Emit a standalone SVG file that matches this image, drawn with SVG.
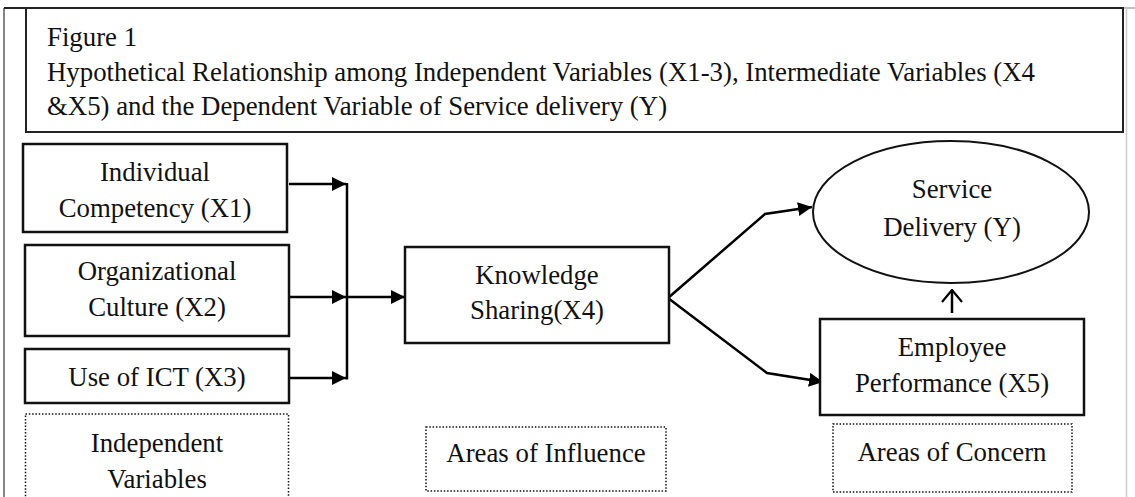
<svg xmlns="http://www.w3.org/2000/svg" width="1135" height="497" viewBox="0 0 1135 497">
  <style>
    text { font-family: "Liberation Serif", "Times New Roman", serif; font-size: 26.8px; fill: #111; }
    .mid { text-anchor: middle; }
    .box { fill: #fff; stroke: #111; stroke-width: 2.5; }
    .dot { fill: none; stroke: #111; stroke-width: 1.5; stroke-dasharray: 1.5 1.8; }
    .edge { fill: none; stroke: #000; stroke-width: 2.5; }
  </style>
  <defs>
    <marker id="tri" viewBox="0 0 14 14" refX="14" refY="7" markerWidth="14" markerHeight="14" markerUnits="userSpaceOnUse" orient="auto">
      <path d="M0,0 L14,7 L0,14 Z" fill="#000"/>
    </marker>
    <marker id="open" viewBox="0 0 14 22" refX="13" refY="11" markerWidth="14" markerHeight="22" markerUnits="userSpaceOnUse" orient="auto">
      <path d="M1,1 L13,11 L1,21" fill="none" stroke="#000" stroke-width="2.2"/>
    </marker>
  </defs>

  <rect width="1135" height="497" fill="#fff"/>

  <!-- page frame -->
  <g id="frame">
    <line x1="4" y1="8" x2="4" y2="497" stroke="#333" stroke-width="1.2"/>
    <line x1="4" y1="8" x2="1124" y2="8" stroke="#222" stroke-width="1.8"/>
    <line x1="1124" y1="8" x2="1135" y2="8" stroke="#999" stroke-width="1.2"/>
    <line x1="1126.5" y1="8" x2="1126.5" y2="497" stroke="#ccc" stroke-width="1.5"/>
  </g>

  <!-- caption -->
  <g id="caption">
    <rect x="26" y="8" width="1097" height="124" fill="#fff" stroke="#222" stroke-width="2"/>
    <text x="47" y="46">Figure 1</text>
    <text x="47" y="81">Hypothetical Relationship among Independent Variables (X1-3), Intermediate Variables (X4</text>
    <text x="47" y="115">&amp;X5) and the Dependent Variable of Service delivery (Y)</text>
  </g>

  <!-- connectors -->
  <g id="connectors">
    <line class="edge" x1="289" y1="184" x2="346" y2="184" marker-end="url(#tri)"/>
    <line class="edge" x1="290" y1="297" x2="346" y2="297" marker-end="url(#tri)"/>
    <line class="edge" x1="290" y1="378" x2="346" y2="378" marker-end="url(#tri)"/>
    <line class="edge" x1="347" y1="183" x2="347" y2="379.5"/>
    <line class="edge" x1="347" y1="297" x2="405" y2="297" marker-end="url(#tri)"/>
    <polyline class="edge" points="668,298 765,214 812,207" marker-end="url(#tri)"/>
    <polyline class="edge" points="668,298 767,373 823,382" stroke-width="3.2" marker-end="url(#tri)"/>
    <line class="edge" x1="952" y1="313" x2="952" y2="290" stroke-width="2" marker-end="url(#open)"/>
  </g>

  <g id="x1">
    <rect class="box" x="23" y="144" width="264" height="88"/>
    <text class="mid" x="155" y="181">Individual</text>
    <text class="mid" x="155" y="217">Competency (X1)</text>
  </g>

  <g id="x2">
    <rect class="box" x="25" y="245" width="264" height="91"/>
    <text class="mid" x="157" y="280">Organizational</text>
    <text class="mid" x="157" y="316">Culture (X2)</text>
  </g>

  <g id="x3">
    <rect class="box" x="25" y="349" width="264" height="54"/>
    <text class="mid" x="157" y="386">Use of ICT (X3)</text>
  </g>

  <g id="independent-label">
    <rect class="dot" x="25.5" y="414" width="263" height="90"/>
    <text class="mid" x="157" y="452">Independent</text>
    <text class="mid" x="157" y="488">Variables</text>
  </g>

  <g id="x4">
    <rect class="box" x="405" y="247" width="264" height="96"/>
    <text class="mid" x="537" y="284">Knowledge</text>
    <text class="mid" x="537" y="319">Sharing(X4)</text>
  </g>

  <g id="influence-label">
    <rect class="dot" x="426" y="427" width="240" height="64"/>
    <text class="mid" x="546" y="462">Areas of Influence</text>
  </g>

  <g id="y">
    <ellipse cx="951" cy="212" rx="138" ry="71" fill="#fff" stroke="#111" stroke-width="2"/>
    <text class="mid" x="952" y="198">Service</text>
    <text class="mid" x="952" y="236">Delivery (Y)</text>
  </g>

  <g id="x5">
    <rect class="box" x="820" y="319" width="264" height="96"/>
    <text class="mid" x="952" y="356">Employee</text>
    <text class="mid" x="952" y="392">Performance (X5)</text>
  </g>

  <g id="concern-label">
    <rect class="dot" x="833" y="424" width="239" height="68"/>
    <text class="mid" x="952" y="461">Areas of Concern</text>
  </g>
</svg>
